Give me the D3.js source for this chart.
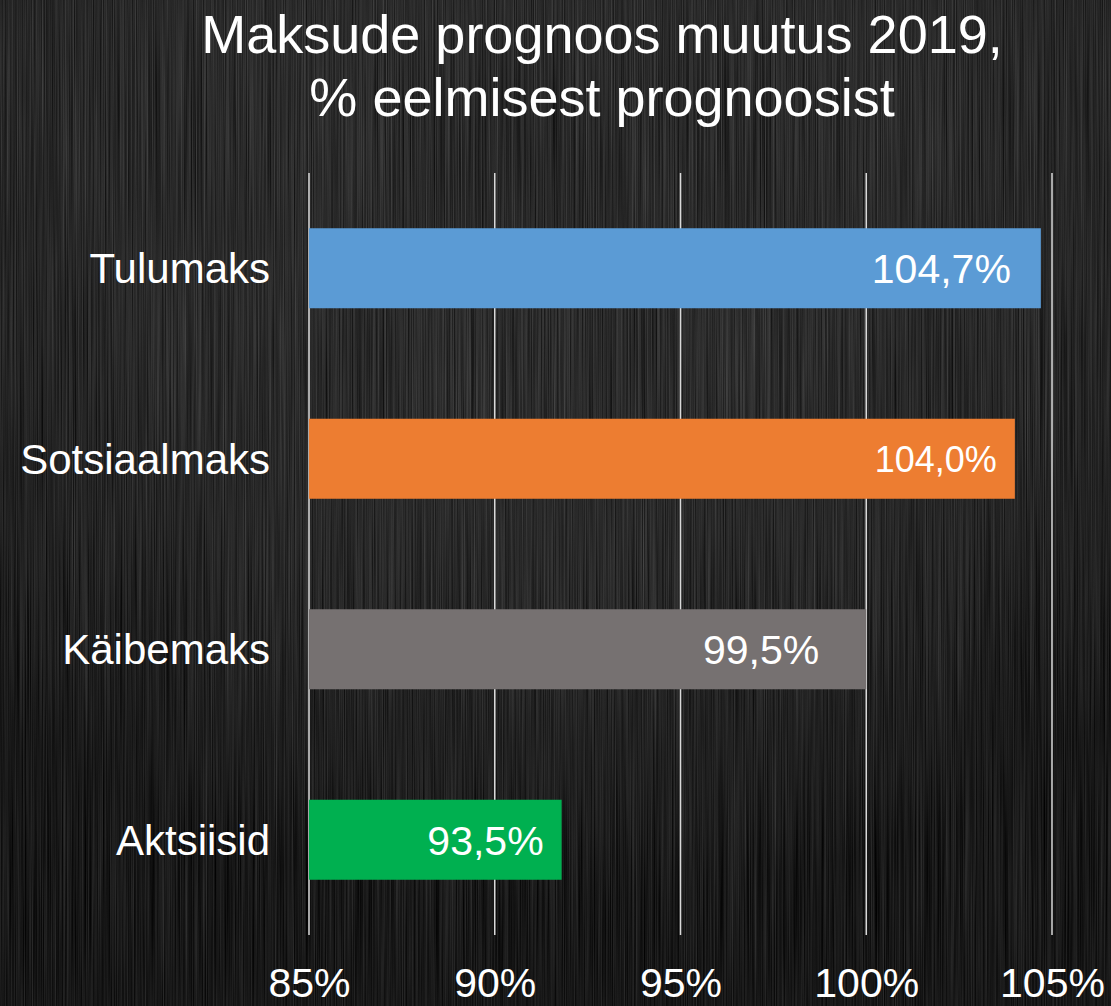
<!DOCTYPE html>
<html>
<head>
<meta charset="utf-8">
<script src="https://cdn.jsdelivr.net/npm/d3@7"></script>
<style>
  html, body { margin: 0; padding: 0; background: #1c1c1c; }
  svg { display: block; font-family: "Liberation Sans", Arial, sans-serif; }
</style>
</head>
<body>
<div id="container"></div>
<script>
/* CONSTANTS AND GLOBALS */
const width = 1111,
  height = 1006,
  margin = { top: 173, bottom: 71, left: 309, right: 59 };

/* DATA */
const categories = ["Tulumaks", "Sotsiaalmaks", "Käibemaks", "Aktsiisid"];
// bar lengths as drawn in the picture
const values = [104.7, 104.0, 100.0, 91.8];
// data labels as printed on the bars
const valueLabels = ["104,7%", "104,0%", "99,5%", "93,5%"];
const ticks = [85, 90, 95, 100, 105];
const titleLines = ["Maksude prognoos muutus 2019,", "% eelmisest prognoosist"];

// styling per bar (kept apart from the data)
const colors = ["#5B9BD5", "#ED7D31", "#767171", "#00B050"];
const labelInset = [30, 18, 47, 18];
const labelSize = [41, 36, 41, 41];

/* SCALES */
const xScale = d3.scaleLinear()
  .domain([85, 105])
  .range([margin.left, width - margin.right]);

const yScale = d3.scaleBand()
  .domain(categories)
  .range([margin.top, height - margin.bottom])
  .paddingInner(0.58)
  .paddingOuter(0.29);

/* SVG */
const svg = d3.select("#container")
  .append("svg")
  .attr("width", width)
  .attr("height", height);

// brushed metal background
const defs = svg.append("defs");
const filter = defs.append("filter")
  .attr("id", "brushed")
  .attr("color-interpolation-filters", "sRGB")
  .attr("x", 0).attr("y", 0).attr("width", 1).attr("height", 1);
filter.append("feTurbulence")
  .attr("type", "fractalNoise")
  .attr("baseFrequency", "0.9 0.004")
  .attr("numOctaves", 3)
  .attr("seed", 7);
filter.append("feColorMatrix")
  .attr("type", "matrix")
  .attr("values", "0.3 0 0 0 -0.035  0.3 0 0 0 -0.035  0.3 0 0 0 -0.035  0 0 0 0 1");

const glow = defs.append("radialGradient")
  .attr("id", "glow")
  .attr("cx", "50%").attr("cy", "15%").attr("r", "75%");
glow.append("stop").attr("offset", "0%").attr("stop-color", "#ffffff").attr("stop-opacity", 0.04);
glow.append("stop").attr("offset", "100%").attr("stop-color", "#000000").attr("stop-opacity", 0.2);

svg.append("rect")
  .attr("width", width).attr("height", height)
  .attr("fill", "#1c1c1c");
svg.append("rect")
  .attr("width", width).attr("height", height)
  .attr("filter", "url(#brushed)");
svg.append("rect")
  .attr("width", width).attr("height", height)
  .attr("fill", "url(#glow)");

// title
svg.append("g")
  .selectAll("text")
  .data(titleLines)
  .join("text")
  .attr("x", 602)
  .attr("y", (d, i) => 53 + i * 63)
  .attr("text-anchor", "middle")
  .attr("fill", "#ffffff")
  .attr("font-size", 54)
  .text(d => d);

// gridlines
svg.append("g")
  .selectAll("line")
  .data(ticks)
  .join("line")
  .attr("x1", d => xScale(d))
  .attr("x2", d => xScale(d))
  .attr("y1", margin.top)
  .attr("y2", height - margin.bottom)
  .attr("stroke", "#d9d9d9")
  .attr("stroke-width", 1.5);

// x axis labels
const xAxis = d3.axisBottom(xScale)
  .tickValues(ticks)
  .tickFormat(d => d + "%")
  .tickSize(0)
  .tickPadding(0);
const xg = svg.append("g")
  .attr("transform", `translate(0, ${height - margin.bottom})`)
  .call(xAxis);
xg.select(".domain").remove();
xg.selectAll("text")
  .attr("fill", "#ffffff")
  .attr("font-size", 41)
  .attr("font-family", "Liberation Sans, Arial, sans-serif")
  .attr("dy", null)
  .attr("y", 62);

// category labels
const yAxis = d3.axisLeft(yScale).tickSize(0).tickPadding(39);
const yg = svg.append("g")
  .attr("transform", `translate(${margin.left}, 0)`)
  .call(yAxis);
yg.select(".domain").remove();
yg.selectAll("text")
  .attr("fill", "#ffffff")
  .attr("font-size", 42)
  .attr("font-family", "Liberation Sans, Arial, sans-serif")
  .attr("dy", "0.36em");

// bars
const rows = categories.map((c, i) => ({ cat: c, value: values[i], label: valueLabels[i], i: i }));

svg.append("g")
  .selectAll("rect")
  .data(rows)
  .join("rect")
  .attr("x", xScale(85))
  .attr("y", d => yScale(d.cat))
  .attr("width", d => xScale(d.value) - xScale(85))
  .attr("height", yScale.bandwidth())
  .attr("fill", d => colors[d.i]);

// value labels
svg.append("g")
  .selectAll("text")
  .data(rows)
  .join("text")
  .attr("x", d => xScale(d.value) - labelInset[d.i])
  .attr("y", d => yScale(d.cat) + yScale.bandwidth() / 2)
  .attr("dy", "0.36em")
  .attr("text-anchor", "end")
  .attr("fill", "#ffffff")
  .attr("font-size", d => labelSize[d.i])
  .text(d => d.label);
</script>
</body>
</html>
